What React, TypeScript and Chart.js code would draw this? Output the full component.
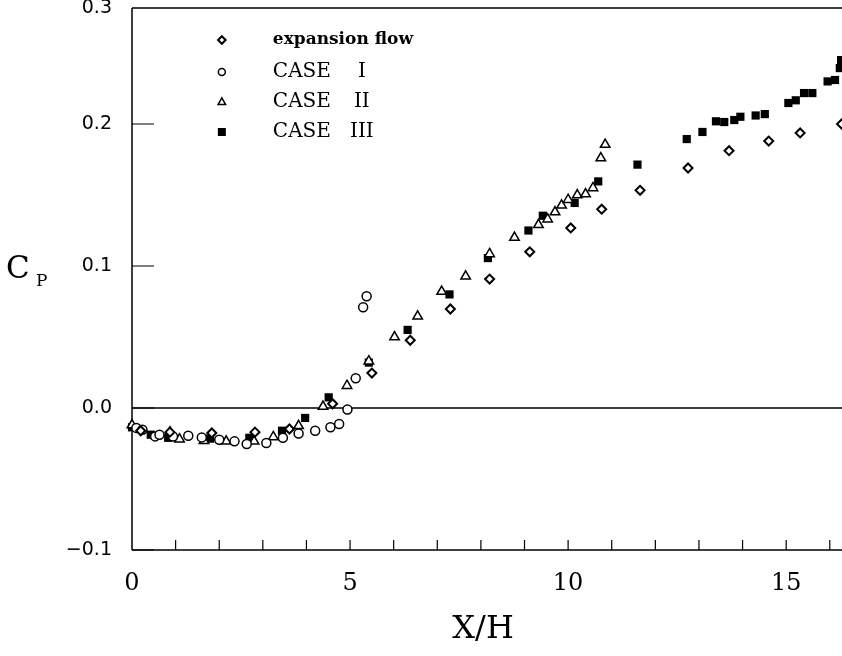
import React, { useEffect, useRef } from 'react';
import { Chart, registerables } from 'chart.js';

Chart.register(...registerables);

// ---- data ----
const expansionX = [0.2, 0.87, 1.83, 2.82, 3.61, 4.6, 5.5, 6.38, 7.3, 8.2, 9.12, 10.06, 10.77, 11.65, 12.75, 13.69, 14.6, 15.32, 16.27];
const expansionY = [-0.016, -0.017, -0.0176, -0.017, -0.0148, 0.003, 0.0246, 0.0477, 0.0697, 0.0908, 0.110, 0.1268, 0.140, 0.1533, 0.169, 0.1812, 0.188, 0.1937, 0.200];

const case1X = [0.1, 0.24, 0.53, 0.63, 0.94, 1.29, 1.6, 2.0, 2.35, 2.63, 3.08, 3.46, 3.82, 4.2, 4.55, 4.75, 4.94, 5.13, 5.3, 5.38];
const case1Y = [-0.014, -0.0153, -0.020, -0.0188, -0.020, -0.0195, -0.0207, -0.0223, -0.0235, -0.0254, -0.0246, -0.021, -0.018, -0.016, -0.0136, -0.0113, -0.001, 0.021, 0.071, 0.0787];

const case2X = [0.0, 0.87, 1.09, 1.65, 2.16, 2.8, 3.24, 3.82, 4.38, 4.93, 5.43, 6.02, 6.55, 7.1, 7.65, 8.2, 8.77, 9.32, 9.53, 9.7, 9.85, 10.0, 10.21, 10.4, 10.57, 10.75, 10.85];
const case2Y = [-0.012, -0.017, -0.022, -0.023, -0.0235, -0.0235, -0.0204, -0.0125, 0.001, 0.0157, 0.033, 0.050, 0.0646, 0.082, 0.0927, 0.1085, 0.120, 0.129, 0.133, 0.138, 0.1427, 0.1467, 0.150, 0.1507, 0.155, 0.176, 0.1855];

const case3X = [0.0, 0.43, 0.83, 1.64, 1.79, 2.69, 3.44, 3.97, 4.51, 5.43, 6.32, 7.28, 8.16, 9.09, 9.42, 10.15, 10.69, 11.59, 12.72, 13.08, 13.39, 13.58, 13.81, 13.95, 14.3, 14.51, 15.05, 15.22, 15.41, 15.6, 15.95, 16.12, 16.23, 16.26];
const case3Y = [-0.0136, -0.0188, -0.021, -0.0218, -0.0216, -0.021, -0.016, -0.007, 0.0075, 0.032, 0.055, 0.080, 0.1056, 0.125, 0.1354, 0.1444, 0.1596, 0.1714, 0.1894, 0.1944, 0.2019, 0.2014, 0.2028, 0.2051, 0.206, 0.207, 0.2148, 0.2167, 0.2218, 0.2218, 0.230, 0.231, 0.2394, 0.245];

const seriesLabels = ['expansion flow', 'CASE  I', 'CASE  II', 'CASE  III'];
const legendWords = ['expansion flow', 'CASE', 'CASE', 'CASE'];
const legendNumerals = ['', 'I', 'II', 'III'];

const xMin = 0;
const xMax = 16.28;
const xLabelEvery = 5;
const yMin = -0.1;
const yTickValues = [-0.1, 0.0, 0.1, 0.2];
const yTopValue = 0.2817;
const yTopLabel = '0.3';
const xTitle = 'X/H';
const yTitleMain = 'C';
const yTitleSub = 'P';

const toPoints = (xs: number[], ys: number[]) => xs.map((x, i) => ({ x, y: ys[i] }));

const SERIF = '"DejaVu Serif", serif';
const SANS = '"DejaVu Sans", sans-serif';

function drawMarker(ctx: CanvasRenderingContext2D, kind: number, x: number, y: number) {
  ctx.save();
  ctx.strokeStyle = '#000';
  ctx.fillStyle = '#fff';
  ctx.lineWidth = 1.5;
  ctx.beginPath();
  if (kind === 0) {
    const r = 3.8;
    ctx.lineWidth = 2;
    ctx.moveTo(x, y - r); ctx.lineTo(x + r, y); ctx.lineTo(x, y + r); ctx.lineTo(x - r, y); ctx.closePath();
    ctx.fill(); ctx.stroke();
  } else if (kind === 1) {
    ctx.arc(x, y, 3.5, 0, Math.PI * 2);
    ctx.fill(); ctx.stroke();
  } else if (kind === 2) {
    const r = 4.2;
    ctx.moveTo(x, y - r); ctx.lineTo(x + r * 0.9, y + r * 0.6); ctx.lineTo(x - r * 0.9, y + r * 0.6); ctx.closePath();
    ctx.fill(); ctx.stroke();
  } else {
    ctx.fillStyle = '#000';
    ctx.rect(x - 4, y - 4, 8, 8);
    ctx.fill();
  }
  ctx.restore();
}

const framePlugin = {
  id: 'frame',
  afterLayout(chart: any) {
    // let the plot run to the right edge of the canvas (the reference is cropped there)
    const xs = chart.scales.x;
    const w = chart.width;
    chart.chartArea.right = w;
    chart.chartArea.width = w - chart.chartArea.left;
    xs.right = w;
    xs.width = w - xs.left;
    xs.configure();
  },
  beforeDatasetsDraw(chart: any) {
    const { ctx, chartArea, scales } = chart;
    const { left, right, top, bottom } = chartArea;
    ctx.save();
    ctx.strokeStyle = '#000';
    ctx.lineWidth = 1.5;
    ctx.beginPath();
    ctx.moveTo(left, top); ctx.lineTo(right, top);
    ctx.moveTo(left, top); ctx.lineTo(left, bottom);
    ctx.moveTo(left, bottom); ctx.lineTo(right, bottom);
    const y0 = scales.y.getPixelForValue(0);
    ctx.moveTo(left, y0); ctx.lineTo(right, y0);
    ctx.stroke();
    ctx.lineWidth = 1.2;
    ctx.beginPath();
    yTickValues.forEach((v) => {
      const py = scales.y.getPixelForValue(v);
      ctx.moveTo(left, py); ctx.lineTo(left + 22, py);
    });
    for (let v = Math.ceil(xMin) + 1; v <= xMax; v++) {
      const px = scales.x.getPixelForValue(v);
      ctx.moveTo(px, bottom); ctx.lineTo(px, bottom - 10);
    }
    ctx.stroke();
    ctx.restore();
  },
  afterDraw(chart: any) {
    const { ctx, scales, chartArea } = chart;
    ctx.save();
    const legendX = scales.x.getPixelForValue(2.06);
    const textX = legendX + 51;
    const numX = legendX + 140;
    const rowYs = [40, 72, 102, 132];
    seriesLabels.forEach((_lab, i) => {
      drawMarker(ctx, i, legendX, rowYs[i]);
      ctx.fillStyle = '#000';
      ctx.textBaseline = 'middle';
      ctx.textAlign = 'left';
      ctx.font = i === 0 ? 'bold 17px ' + SERIF : '20px ' + SERIF;
      ctx.fillText(legendWords[i], textX, rowYs[i]);
      if (legendNumerals[i]) {
        ctx.textAlign = 'center';
        ctx.fillText(legendNumerals[i], numX, rowYs[i]);
      }
    });
    // x title
    ctx.textAlign = 'center';
    ctx.textBaseline = 'middle';
    ctx.font = '32px ' + SERIF;
    ctx.fillText(xTitle, scales.x.getPixelForValue(8.05), chartArea.bottom + 80);
    // y title C_P
    const yc = scales.y.getPixelForValue(0.1);
    ctx.textAlign = 'left';
    ctx.textBaseline = 'alphabetic';
    ctx.font = '31px ' + SERIF;
    ctx.fillText(yTitleMain, 6, yc + 12);
    ctx.font = '17px ' + SERIF;
    ctx.fillText(yTitleSub, 36, yc + 20);
    ctx.restore();
  },
};

export default function App() {
  const canvasRef = useRef<HTMLCanvasElement | null>(null);

  useEffect(() => {
    if (!canvasRef.current) return;
    const common = { showLine: false, pointBorderColor: '#000', clip: false as const };
    const chart = new Chart(canvasRef.current, {
      type: 'scatter',
      data: {
        datasets: [
          { ...common, label: seriesLabels[0], data: toPoints(expansionX, expansionY), pointStyle: 'rectRot', pointRadius: 4.5, pointBorderWidth: 2, pointBackgroundColor: '#fff' },
          { ...common, label: seriesLabels[1], data: toPoints(case1X, case1Y), pointStyle: 'circle', pointRadius: 4.5, pointBorderWidth: 1.5, pointBackgroundColor: '#fff' },
          { ...common, label: seriesLabels[2], data: toPoints(case2X, case2Y), pointStyle: 'triangle', pointRadius: 5.5, pointBorderWidth: 1.5, pointBackgroundColor: '#fff' },
          { ...common, label: seriesLabels[3], data: toPoints(case3X, case3Y), pointStyle: 'rect', pointRadius: 5.8, pointBorderWidth: 0, pointBackgroundColor: '#000' },
        ],
      },
      options: {
        animation: false,
        responsive: false,
        maintainAspectRatio: false,
        events: [],
        layout: { padding: { top: 8, right: 0, left: 0, bottom: 0 } },
        plugins: { legend: { display: false }, tooltip: { enabled: false } },
        scales: {
          x: {
            type: 'linear',
            min: xMin,
            max: xMax,
            grid: { display: false, drawTicks: false },
            border: { display: false },
            ticks: {
              stepSize: 1,
              autoSkip: false,
              maxRotation: 0,
              padding: 19,
              color: '#000',
              font: { family: SERIF, size: 24 },
              callback: (v: any) => (Number(v) % xLabelEvery === 0 ? String(v) : ''),
            },
            title: { display: false, text: xTitle },
            afterFit: (s: any) => {
              s.height = 106;
              s.paddingLeft = 0;
              s.paddingRight = 0;
            },
          },
          y: {
            type: 'linear',
            min: yMin,
            max: yTopValue,
            grid: { display: false, drawTicks: false },
            border: { display: false },
            afterBuildTicks: (s: any) => {
              s.ticks = [...yTickValues, yTopValue].map((v) => ({ value: v }));
            },
            ticks: {
              padding: 20,
              color: '#000',
              font: { family: SANS, size: 19 },
              callback: (v: any) => (v === yTopValue ? yTopLabel : Number(v).toFixed(1).replace('-', '\u2212')),
            },
            afterFit: (s: any) => {
              s.width = 132;
              s.paddingTop = 0;
              s.paddingBottom = 0;
            },
          },
        },
      },
      plugins: [framePlugin],
    });
    return () => chart.destroy();
  }, []);

  return (
    <div style={{ position: 'fixed', left: 0, top: 0, width: 842, height: 656, background: '#fff' }}>
      <canvas ref={canvasRef} width={842} height={656} style={{ display: 'block' }} />
    </div>
  );
}
